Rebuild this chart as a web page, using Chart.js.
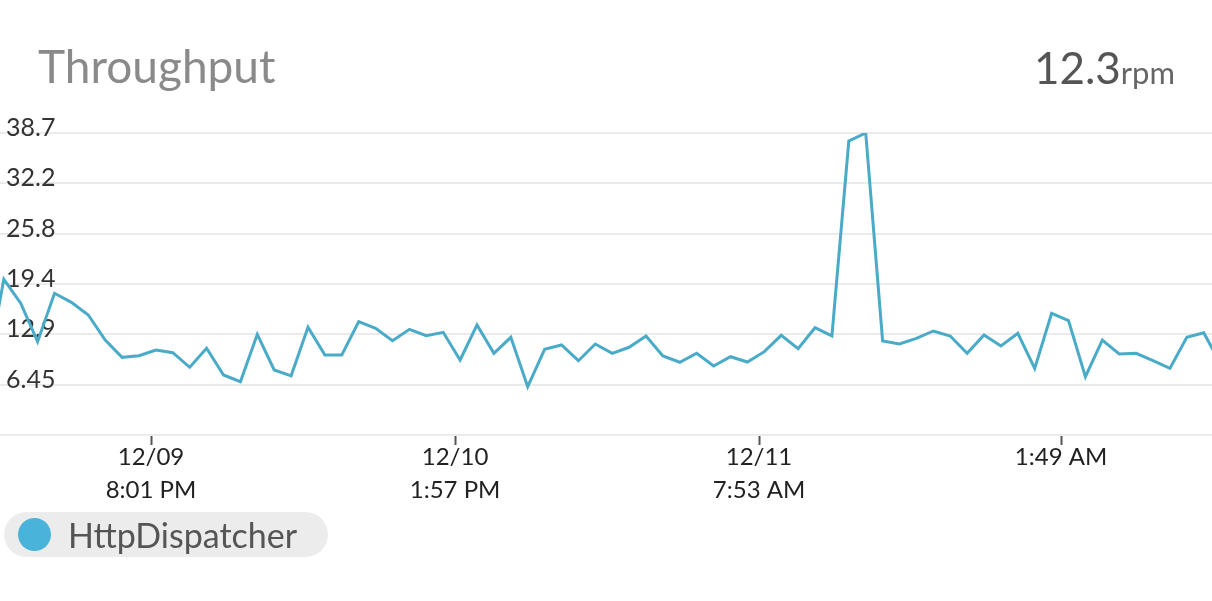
<!DOCTYPE html>
<html>
<head>
<meta charset="utf-8">
<script src="https://cdn.jsdelivr.net/npm/chart.js@4"></script>
<style>
  body { margin: 0; background: #fff; font-family: Lato, sans-serif; }
  #wrap { position: relative; width: 1212px; height: 601px; overflow: hidden; }
  #chartBox { position: absolute; left: 0; top: 0; width: 1212px; height: 601px; }
  .title { position: absolute; left: 38px; top: 43px; font-size: 46px; line-height: 46px; color: #8a8a8a; }
  .rate { position: absolute; right: 37px; top: 45px; line-height: 44px; color: #555; white-space: nowrap; }
  .rate .num { font-size: 44px; }
  .rate .unit { font-size: 31px; color: #666; }
  .legend { position: absolute; left: 4px; top: 512px; height: 45px; padding: 0 31px 0 14px;
            background: #ececec; border-radius: 23px; display: flex; align-items: center; }
  .legend .dot { width: 33px; height: 33px; border-radius: 50%; background: #4ab3d9; margin-right: 17px; }
  .legend .txt { font-size: 34px; color: #555; }
</style>
</head>
<body>
<div id="wrap">
  <div id="chartBox"><canvas id="chart"></canvas></div>
  <div class="title">Throughput</div>
  <div class="rate"><span class="num">12.3</span><span class="unit">rpm</span></div>
  <div class="legend" id="legend"></div>
</div>
<script>
// hourly throughput (rpm), first and last values lie just outside the visible window
const seriesName = "HttpDispatcher";
const throughput = [
  8.2, 19.95, 16.9, 11.96, 18.16, 17.0, 15.38, 12.17, 9.95, 10.16,
  10.89, 10.55, 8.68, 11.11, 7.69, 6.83, 12.9, 8.33, 7.58, 13.8,
  10.25, 10.25, 14.52, 13.67, 12.08, 13.54, 12.73, 13.16, 9.61, 14.1,
  10.47, 12.52, 6.19, 10.98, 11.53, 9.52, 11.66, 10.47, 11.24, 12.69,
  10.12, 9.32, 10.47, 8.84, 10.03, 9.35, 10.68, 12.77, 11.06, 13.75,
  12.69, 37.67, 38.7, 12.05, 11.66, 12.39, 13.33, 12.69, 10.47, 12.81,
  11.4, 13.03, 8.54, 15.59, 14.65, 7.47, 12.17, 10.38, 10.47, 9.52,
  8.54, 12.52, 13.11, 9.1
];
const firstHour = -1;
const viewStart = -0.225;
const viewEnd = 71.49;

const xTickHours = [8.71, 26.70, 44.686, 62.556];
const xTickLabels = [["12/09", "8:01 PM"], ["12/10", "1:57 PM"], ["12/11", "7:53 AM"], ["1:49 AM"]];
const yTickValues = [0, 6.45, 12.9, 19.35, 25.8, 32.25, 38.7];
const yTickLabels = ["", "6.45", "12.9", "19.4", "25.8", "32.2", "38.7"];

const lineColor = "#4aabc9";

Chart.defaults.font.family = "Lato, sans-serif";
Chart.defaults.color = "#333";

const points = throughput.map((v, i) => ({ x: firstHour + i, y: v }));

const ctx = document.getElementById("chart").getContext("2d");
const chart = new Chart(ctx, {
  type: "line",
  data: {
    datasets: [{
      label: seriesName,
      data: points,
      borderColor: lineColor,
      borderWidth: 3,
      pointRadius: 0,
      tension: 0,
      fill: false
    }]
  },
  options: {
    responsive: true,
    maintainAspectRatio: false,
    animation: false,
    layout: { padding: { top: 133, left: 0, right: 0, bottom: 0 } },
    plugins: {
      legend: { display: false },
      tooltip: { enabled: false }
    },
    scales: {
      x: {
        type: "linear",
        min: viewStart,
        max: viewEnd,
        afterBuildTicks: (scale) => { scale.ticks = xTickHours.map(v => ({ value: v })); },
        afterFit: (scale) => { scale.height = 166; scale.paddingLeft = 0; scale.paddingRight = 0; },
        ticks: {
          autoSkip: false,
          maxRotation: 0,
          padding: -5,
          color: "#222",
          font: { size: 24, lineHeight: 1.4 },
          callback: (value, index) => xTickLabels[index]
        },
        grid: { drawOnChartArea: false, drawTicks: true, tickLength: 10, tickColor: "#555", tickWidth: 2 },
        border: { display: false }
      },
      y: {
        min: 0,
        max: 38.7,
        afterBuildTicks: (scale) => { scale.ticks = yTickValues.map(v => ({ value: v })); },
        afterFit: (scale) => { scale.width = 0; scale.paddingTop = 0; scale.paddingBottom = 0; },
        ticks: {
          mirror: true,
          padding: 6,
          labelOffset: -5,
          color: "#333",
          font: { size: 25 },
          callback: (value, index) => yTickLabels[index]
        },
        grid: { color: "#ebebeb", lineWidth: 2, drawTicks: false },
        border: { display: false }
      }
    }
  }
});

// legend pill built from the dataset
const legend = document.getElementById("legend");
chart.data.datasets.forEach(ds => {
  legend.innerHTML = '<span class="dot"></span><span class="txt">' + ds.label + '</span>';
});
</script>
</body>
</html>
